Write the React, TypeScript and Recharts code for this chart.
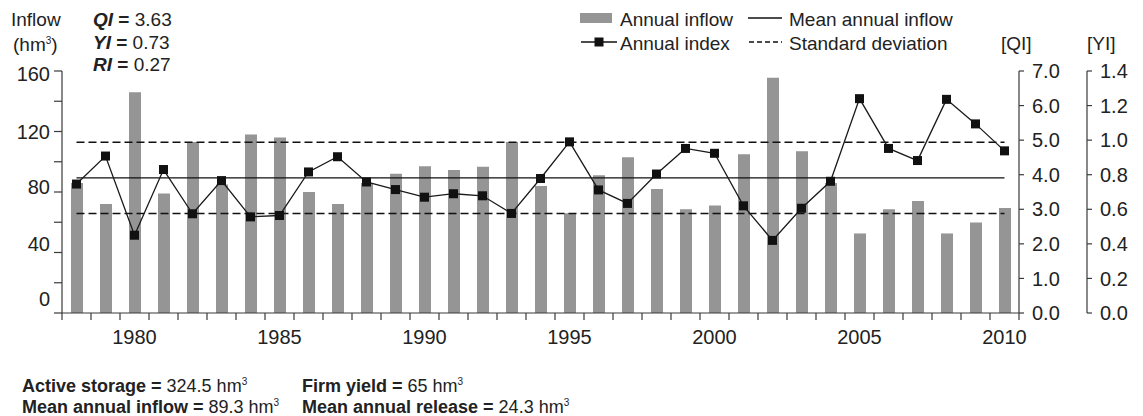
import React from "react"
import { ComposedChart, Bar, Line, XAxis, YAxis, ReferenceLine } from "recharts"

const years = [1978, 1979, 1980, 1981, 1982, 1983, 1984, 1985, 1986, 1987, 1988, 1989, 1990, 1991, 1992, 1993, 1994, 1995, 1996, 1997, 1998, 1999, 2000, 2001, 2002, 2003, 2004, 2005, 2006, 2007, 2008, 2009, 2010]
const inflow = [86, 72, 146, 79, 113, 85, 118, 116, 80, 72, 86, 92, 97, 94.5, 96.7, 113, 84, 66, 91, 103, 82, 68.6, 71, 105, 155.6, 107, 86, 52.6, 68.6, 74, 52.6, 59.8, 69.5]
const qiIndex = [3.73, 4.54, 2.25, 4.15, 2.87, 3.83, 2.78, 2.82, 4.08, 4.52, 3.79, 3.57, 3.35, 3.45, 3.39, 2.88, 3.89, 4.95, 3.56, 3.17, 4.02, 4.76, 4.62, 3.1, 2.1, 3.03, 3.81, 6.2, 4.76, 4.41, 6.18, 5.47, 4.69]

const meanInflow = 89.3
const sdLow = 65.8
const sdHigh = 112.9

const inflowTicks = [0, 20, 40, 60, 80, 100, 120, 140, 160]
const qiTicks = [0, 1, 2, 3, 4, 5, 6, 7]
const yiTicks = [0, 0.2, 0.4, 0.6, 0.8, 1.0, 1.2, 1.4]

const indices = [
  { name: "QI", value: "3.63" },
  { name: "YI", value: "0.73" },
  { name: "RI", value: "0.27" },
]
const notes = [
  { label: "Active storage =", value: "324.5 hm" },
  { label: "Firm yield =", value: "65 hm" },
  { label: "Mean annual inflow =", value: "89.3 hm" },
  { label: "Mean annual release =", value: "24.3 hm" },
]

const data = years.map((year, i) => ({ year, inflow: inflow[i], qi: qiIndex[i] }))

const W = 1143
const H = 416
const FONT = "'Liberation Sans', Arial, Helvetica, sans-serif"
const INK = "#222"
const AXIS = "#3a3a3a"
const BAR = "#959595"
const TICK_FS = 20
const PLOT_LEFT = 62
const PLOT_RIGHT = 1019
const HALF_BAND = (PLOT_RIGHT - PLOT_LEFT) / years.length / 2

// the original figure has its left labels drifting up a bit from their ticks
const leftShift: Record<number, number> = { 160: 2.7, 120: 0, 80: -5, 40: -8.6, 0: -13.7 }

const LeftTick = (props: any) => {
  const { x, y, payload } = props
  const v = payload.value
  if (v % 40 !== 0) return <g />
  return (
    <text x={x} y={y + (leftShift[v] ?? 0)} dy="0.355em" textAnchor="end" fontSize={TICK_FS} fontFamily={FONT} fill={INK}>
      {v}
    </text>
  )
}

const YearTick = (props: any) => {
  const { x, y, payload, index } = props
  const y0 = y - 9
  const last = index === years.length - 1
  return (
    <g>
      <line x1={x - HALF_BAND} x2={x - HALF_BAND} y1={y0} y2={y0 + 7} stroke={AXIS} strokeWidth={1.2} />
      {last && <line x1={x + HALF_BAND} x2={x + HALF_BAND} y1={y0} y2={y0 + 7} stroke={AXIS} strokeWidth={1.2} />}
      {payload.value % 5 === 0 && (
        <text x={x} y={y0 + 31} textAnchor="middle" fontSize={TICK_FS} fontFamily={FONT} fill={INK}>
          {payload.value}
        </text>
      )}
    </g>
  )
}

const SquareDot = (props: any) => {
  const { cx, cy } = props
  if (cx == null || cy == null) return <g />
  return <rect x={cx - 4.5} y={cy - 4.5} width={9} height={9} fill="#111" />
}

const Sup = ({ children }: { children: React.ReactNode }) => (
  <tspan dy={-7} fontSize={10}>{children}</tspan>
)

export default function App() {
  const txt = { fontFamily: FONT, fill: INK }
  return (
    <div style={{ position: "absolute", left: 0, top: 0, width: W, height: H, background: "#fff" }}>
      <ComposedChart width={W} height={H} data={data} margin={{ top: 71, right: 16, bottom: 73, left: 0 }}>
        <XAxis dataKey="year" type="category" height={30} interval={0} tickLine={false} tickSize={7} tickMargin={2}
          axisLine={{ stroke: AXIS, strokeWidth: 1.2 }} tick={<YearTick />} />
        <YAxis yAxisId="left" domain={[0, 160]} ticks={inflowTicks} interval={0} width={62} tickSize={8} tickMargin={4}
          axisLine={{ stroke: AXIS, strokeWidth: 1.2 }} tickLine={{ stroke: AXIS, strokeWidth: 1.2 }} tick={<LeftTick />} />
        <YAxis yAxisId="qi" orientation="right" domain={[0, 7]} ticks={qiTicks} interval={0} width={68} tickSize={5} tickMargin={8}
          tickFormatter={(v: number) => v.toFixed(1)}
          axisLine={{ stroke: AXIS, strokeWidth: 1.2 }} tickLine={{ stroke: AXIS, strokeWidth: 1.2 }}
          tick={{ fontSize: TICK_FS, fontFamily: FONT, fill: INK }} />
        <YAxis yAxisId="yi" orientation="right" domain={[0, 1.4]} ticks={yiTicks} interval={0} width={40} tickSize={5} tickMargin={8}
          allowDataOverflow tickFormatter={(v: number) => v.toFixed(1)}
          axisLine={{ stroke: AXIS, strokeWidth: 1.2 }} tickLine={{ stroke: AXIS, strokeWidth: 1.2 }}
          tick={{ fontSize: TICK_FS, fontFamily: FONT, fill: INK }} />
        <Bar yAxisId="left" dataKey="inflow" fill={BAR} barSize={12} isAnimationActive={false} />
        <ReferenceLine yAxisId="left" segment={[{ x: years[0], y: meanInflow }, { x: years[years.length - 1], y: meanInflow }]}
          stroke="#111" strokeWidth={1.3} />
        <ReferenceLine yAxisId="left" segment={[{ x: years[0], y: sdHigh }, { x: years[years.length - 1], y: sdHigh }]}
          stroke="#111" strokeWidth={1.3} strokeDasharray="8 4" />
        <ReferenceLine yAxisId="left" segment={[{ x: years[0], y: sdLow }, { x: years[years.length - 1], y: sdLow }]}
          stroke="#111" strokeWidth={1.3} strokeDasharray="8 4" />
        <Line yAxisId="qi" dataKey="qi" stroke="#1a1a1a" strokeWidth={1.3} dot={<SquareDot />} activeDot={false}
          isAnimationActive={false} />
      </ComposedChart>

      <svg width={W} height={H} style={{ position: "absolute", left: 0, top: 0, pointerEvents: "none" }}>
        <text x={11} y={26} fontSize={19} {...txt}>Inflow</text>
        <text x={13} y={51} fontSize={19} {...txt}>
          <tspan>(hm</tspan><Sup>3</Sup><tspan dy={7}>)</tspan>
        </text>
        {indices.map((d, i) => (
          <text key={d.name} x={93} y={26 + i * 22.5} fontSize={19} {...txt}>
            <tspan fontWeight="bold" fontStyle="italic">{d.name}</tspan>
            <tspan fontWeight="bold"> =</tspan>
            <tspan> {d.value}</tspan>
          </text>
        ))}

        {/* legend */}
        <rect x={580} y={13} width={32} height={10} fill={BAR} />
        <text x={620} y={26} fontSize={19} {...txt}>Annual inflow</text>
        <line x1={748} x2={782} y1={18} y2={18} stroke="#111" strokeWidth={1.3} />
        <text x={789} y={26} fontSize={19} {...txt}>Mean annual inflow</text>
        <line x1={581} x2={617} y1={42} y2={42} stroke="#111" strokeWidth={1.3} />
        <rect x={594.5} y={37.5} width={9} height={9} fill="#111" />
        <text x={620} y={49.5} fontSize={19} {...txt}>Annual index</text>
        <line x1={749} x2={782} y1={42} y2={42} stroke="#111" strokeWidth={1.3} strokeDasharray="5 3" />
        <text x={789} y={49.5} fontSize={19} {...txt}>Standard deviation</text>
        <text x={1001} y={50} fontSize={19} {...txt}>[QI]</text>
        <text x={1087} y={50} fontSize={19} {...txt}>[YI]</text>

        {notes.map((n, i) => (
          <text key={n.label} x={i % 2 === 0 ? 22 : 302} y={i < 2 ? 392 : 413} fontSize={18} {...txt}>
            <tspan fontWeight="bold">{n.label}</tspan>
            <tspan> {n.value}</tspan>
            <Sup>3</Sup>
          </text>
        ))}
      </svg>
    </div>
  )
}
